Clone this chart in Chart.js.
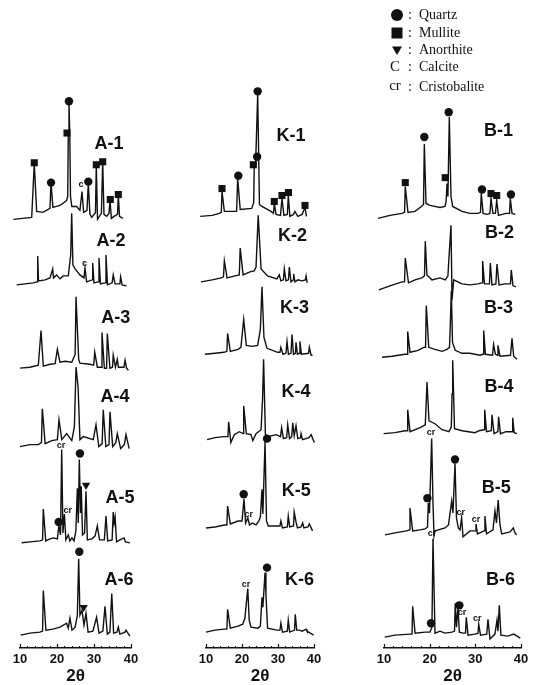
<!DOCTYPE html>
<html>
<head>
<meta charset="utf-8">
<script src="https://cdn.jsdelivr.net/npm/chart.js@4.4.0/dist/chart.umd.min.js"></script>
<style>
  html, body { margin: 0; background: #fff; }
  #wrap { position: relative; width: 543px; height: 685px; }
  canvas { position: absolute; left: 0; top: 0; }
</style>
</head>
<body>
<div id="wrap">
  <canvas id="colA" width="543" height="685"></canvas>
  <canvas id="colK" width="543" height="685"></canvas>
  <canvas id="colB" width="543" height="685"></canvas>
</div>
<script>
// 2θ tick labels
const twoThetaTicks = [10, 20, 30, 40];

// sample names per column
const samplesA = ["A-1", "A-2", "A-3", "A-4", "A-5", "A-6"];
const samplesK = ["K-1", "K-2", "K-3", "K-4", "K-5", "K-6"];
const samplesB = ["B-1", "B-2", "B-3", "B-4", "B-5", "B-6"];

// patterns: [2θ, intensity above the trace's own baseline]
const a1 = [[8.2,-3],[13.16,-1],[13.86,53],[14.5,5],[16.2,4],[18.1,8],[18.38,33],[18.9,9],[20.8,11],[22.6,16],[22.9,20],[23.05,84],[23.24,115],[23.45,84],[23.65,20],[24.0,10],[25.3,10],[26.2,6],[26.76,25],[27.2,4],[28.1,6],[28.46,33],[28.9,2],[29.4,-1],[30.4,4],[30.62,51],[30.95,-3],[32.0,3],[32.35,55],[32.7,2],[33.4,0],[34.05,3],[34.32,16],[34.7,-2],[35.4,0],[36.35,2],[36.57,21],[36.9,0],[37.8,-2]];
const a2 = [[9.1,0],[13.6,2],[14.6,3],[14.78,29],[15.0,4],[16.8,5],[18.1,7],[18.84,16],[19.05,7],[19.9,10],[20.8,6],[21.7,9],[23.05,9],[23.7,30],[23.97,72],[24.3,20],[24.9,16],[26.2,10],[27.3,7],[27.57,17],[28.0,3],[29.5,5],[29.65,22],[30.0,2],[31.1,3],[31.35,27],[31.75,1],[33.0,2],[33.24,30],[33.65,0],[34.9,2],[35.2,10],[35.7,1],[37.0,1],[37.2,8],[37.6,0],[38.8,-1]];
const a3 = [[10.0,1],[12.7,2],[14.95,4],[15.68,39],[16.3,3],[18.1,5],[19.5,5.5],[20.1,20],[20.8,7],[22.2,8],[24.0,7],[24.9,15],[25.14,73],[25.86,10],[26.2,6],[28.9,5],[29.9,4],[30.2,17],[30.9,2],[31.9,2],[32.16,37],[32.8,1],[33.4,1],[33.6,36],[34.3,1],[35.0,2],[35.2,14],[35.8,2],[36.3,10],[36.6,2],[38.1,2],[38.4,9],[38.8,1],[39.3,-1]];
const a4 = [[10.0,0],[12.7,2],[14.95,2],[15.8,4],[16.03,38],[16.8,3],[18.6,6],[20.1,7],[20.54,27],[21.3,7],[22.6,13],[24.0,6],[24.7,20],[25.14,80],[25.7,60],[26.2,7],[27.1,10],[29.8,7],[30.54,22],[31.3,0],[32.2,3],[32.5,37],[33.2,0],[34.05,2],[34.32,35],[35.05,0],[35.9,4],[36.3,13],[37.2,-2],[38.2,2],[38.65,12],[39.5,-2]];
const a5 = [[10.45,0],[12.7,1],[15.4,2],[16.1,3],[16.3,34],[16.95,2],[18.1,4],[19.0,5],[20.1,4],[20.5,17],[20.95,8],[21.27,94],[21.6,10],[22.0,29],[22.4,3],[23.05,8],[23.5,2],[24.05,5],[24.6,2],[25.1,12],[25.5,55],[25.75,20],[26.03,84],[26.35,30],[26.55,57],[26.9,8],[27.45,10],[27.84,52],[28.2,3],[29.45,4],[30.3,7],[30.9,17],[31.5,3],[32.8,3],[33.24,27],[33.7,2],[34.9,3],[35.2,31],[35.45,20],[35.7,26],[36.1,1],[37.0,3],[38.1,5],[38.5,1],[39.7,0]];
const a6 = [[10.2,0],[12.7,2],[15.4,3],[16.1,4],[16.3,45],[17.0,5],[18.9,6],[20.8,8],[22.6,12],[23.05,7],[23.5,17],[24.05,5],[24.9,8],[25.5,20],[25.86,77],[26.2,20],[26.75,25],[27.3,10],[27.84,22],[28.4,3],[29.7,4],[30.7,18],[31.35,2],[32.4,4],[32.97,29],[33.6,1],[34.3,3],[34.8,42],[35.3,2],[36.2,3],[36.57,8],[37.0,1],[38.4,3],[38.65,5],[39.7,-1]];

const k1 = [[8.4,0],[11.7,1],[13.7,3],[14.25,4],[14.45,25],[15.1,5],[17.9,5],[18.5,5],[18.8,38],[19.5,7],[22.7,8],[23.25,14],[23.4,50],[23.8,55],[24.36,123],[24.85,12],[25.55,10],[28.05,5],[28.75,3],[28.97,13],[29.45,2],[30.7,1],[31.1,18],[31.65,1],[32.6,2],[32.86,21],[33.3,0],[34.3,2],[34.7,5],[35.5,0],[36.7,2],[37.5,9],[37.9,0],[38.05,0]];
const k2 = [[8.6,-1],[11.7,1],[14.2,3],[14.85,4],[15.1,20],[15.85,3],[18.05,5],[19.25,6],[19.5,33],[20.3,6],[22.2,9],[23.4,10],[23.9,14],[24.5,66],[25.3,12],[27.1,5],[29.7,2],[30.35,6],[30.8,0],[31.5,1],[31.75,12],[32.2,0],[32.9,1],[33.15,14],[33.6,-1],[34.2,1],[34.35,7],[34.7,-1],[35.55,1],[36.7,0],[37.6,1],[37.8,5],[38.1,-2]];
const k3 = [[9.7,0],[12.5,1],[15.0,2],[15.8,3],[16.0,21],[16.75,3],[18.9,5],[19.7,7],[20.47,35],[21.2,9],[22.8,8],[24.35,9],[25.1,25],[25.55,68],[26.1,17],[26.95,6],[29.9,2],[30.55,2],[30.8,7],[31.4,0],[32.2,1],[32.5,13],[32.9,0],[33.6,1],[33.9,20],[34.3,0],[34.85,1],[35.0,12],[35.4,0],[35.95,1],[36.1,13],[36.5,0],[38.5,1],[38.7,7],[39.2,-1],[39.6,-1]];
const k4 = [[10.3,0],[12.5,2],[15.0,3],[16.1,3],[16.3,18],[16.9,-3],[17.85,5],[19.25,8],[20.3,6],[20.47,34],[21.2,6],[22.5,5],[23.0,-1],[23.9,6],[25.3,10],[25.7,40],[26.0,81],[26.5,5],[27.2,3],[29.45,5],[30.7,3],[31.0,12],[31.5,1],[32.4,2],[32.7,15],[33.2,1],[33.8,3],[34.1,17],[34.5,4],[35.0,14],[35.5,1],[36.25,2],[36.4,6],[36.8,0],[38.6,2],[39.2,5],[40.1,-3]];
const k5 = [[10.0,1],[12.5,2],[15.1,4],[15.8,4],[16.0,23],[16.75,5],[18.9,8],[20.0,8],[20.55,30],[21.0,6],[21.6,11],[22.1,4],[22.8,6],[23.9,4],[24.7,8],[25.1,12],[25.55,40],[25.8,15],[26.4,88],[26.8,8],[27.3,3],[29.7,3],[30.55,3],[30.8,8],[31.25,1],[32.6,2],[32.85,13],[33.25,2],[34.3,3],[34.5,17],[35.0,7],[35.4,1],[36.4,2],[36.85,6],[37.2,1],[38.3,2],[38.7,5],[39.6,-2]];
const k6 = [[10.0,0],[12.5,2],[15.1,3],[15.8,3],[16.0,23],[16.75,4],[18.9,6],[20.2,8],[20.8,14],[21.6,44],[22.0,12],[22.5,5],[24.45,4],[25.1,6],[25.55,35],[25.8,25],[26.4,60],[26.65,38],[27.1,4],[29.7,2],[30.55,2],[30.8,9],[31.25,0],[32.6,1],[32.85,12],[33.25,0],[34.6,2],[34.8,18],[35.2,2],[35.95,2],[36.7,1],[37.8,3],[38.05,1],[39.9,-3]];

const b1 = [[8.69,-2],[11.3,1],[13.94,3],[14.5,4],[14.66,30],[15.25,4],[16.8,5],[18.17,10],[18.65,12],[18.83,73],[19.2,13],[20.07,11],[22.26,9],[23.36,10],[23.6,15],[23.8,33],[24.0,20],[24.3,100],[24.67,20],[25.04,10],[27.08,5],[28.8,3],[30.6,3],[31.13,4],[31.3,23],[31.7,3],[32.55,2],[33.2,3],[33.43,18],[33.86,3],[34.4,3],[34.68,16],[35.07,1],[36.7,3],[37.48,3],[37.66,18],[38.03,3],[38.75,2]];
const b2 = [[8.84,-2],[11.3,2],[13.94,6],[14.5,6],[14.66,30],[15.36,5],[16.8,8],[18.3,10],[18.87,12],[19.04,47],[19.4,13],[20.5,8],[22.26,10],[23.42,8],[24.0,12],[24.17,26],[24.67,63],[24.9,-12],[25.26,8],[27.08,4],[28.8,3],[30.6,4],[31.46,5],[31.6,27],[32.0,4],[33.1,4],[33.28,25],[33.65,3],[34.5,4],[34.74,24],[35.2,3],[36.5,4],[37.7,4],[37.87,18],[38.25,2],[38.9,1]];
const b3 = [[9.56,0],[11.75,1],[14.6,3],[15.04,3],[15.19,26],[15.7,5],[17.45,7],[18.7,10],[19.1,10],[19.26,52],[19.8,10],[21.17,8],[22.7,6],[23.8,8],[24.34,10],[24.5,30],[24.74,67],[25.0,15],[25.6,7],[27.08,4],[28.8,4],[31.0,2],[31.68,3],[31.83,27],[32.2,3],[33.76,2],[34.0,13],[34.4,3],[34.85,2],[34.96,12],[35.4,1],[37.7,2],[38.03,19],[38.4,1],[39.12,-2]];
const b4 = [[9.93,0],[12.4,1],[14.6,3],[15.04,3],[15.19,24],[15.7,2],[17.9,6],[19.04,9],[19.42,52],[19.85,13],[21.17,10],[22.7,4],[24.23,2],[24.74,7],[24.9,40],[25.04,74],[25.44,5],[27.08,3],[29.93,1],[30.8,3],[31.9,4],[32.05,24],[32.45,2],[33.5,3],[33.65,19],[34.1,0],[34.95,2],[35.1,17],[35.5,0],[36.7,2],[38.03,2],[38.18,16],[38.5,1],[39.12,0]];
const b5 = [[10.22,-2],[12.4,0],[14.97,2],[15.5,3],[15.69,25],[16.28,2],[17.9,3],[19.0,4],[19.53,6],[19.7,30],[19.96,20],[20.44,95],[20.73,30],[20.95,-3],[21.17,2],[23.36,5],[24.12,8],[24.82,32],[25.1,20],[25.55,70],[25.87,15],[26.27,5],[26.64,3],[27.0,15],[27.3,-4],[28.83,2],[29.93,2],[30.14,9],[30.47,-1],[31.9,2],[32.1,17],[32.45,-1],[33.86,3],[34.3,22],[34.63,10],[35.0,33],[35.4,8],[35.77,-1],[37.6,1],[38.3,5],[38.7,0],[39.06,-2]];
const b6 = [[10.15,0],[12.4,2],[15.76,3],[16.13,3],[16.28,31],[16.8,4],[18.98,5],[20.07,5],[20.5,10],[20.73,99],[21.0,40],[21.17,4],[22.26,6],[23.36,4],[24.9,5],[25.44,6],[25.6,34],[25.87,10],[26.2,30],[26.5,5],[27.3,4],[27.85,4],[28.02,20],[28.4,2],[29.93,3],[30.58,4],[30.74,13],[31.13,2],[32.5,3],[32.77,18],[33.2,-2],[34.3,3],[34.74,17],[34.96,6],[35.25,32],[35.6,2],[37.15,1],[38.4,3],[39.84,-1]];

// phase marks: [sample, 2θ, intensity]
const quartzA = [["A-1",18.38,34],["A-1",23.24,116],["A-1",28.46,35],["A-5",20.45,21],["A-5",26.2,90],["A-6",26.03,84]];
const mulliteA = [["A-1",13.86,54],["A-1",22.7,84],["A-1",30.62,52],["A-1",32.35,55],["A-1",34.4,17],["A-1",36.57,22]];
const anorthiteA = [["A-5",27.84,58],["A-6",27.2,28]];
const calciteA = [["A-1",26.5,32],["A-2",27.4,21]];
const cristobaliteA = [["A-5",21.1,98],["A-5",22.9,33]];

const quartzK = [["K-1",18.97,41],["K-1",24.2,60],["K-1",24.36,126],["K-5",20.47,35],["K-5",26.95,91],["K-6",26.95,65]];
const mulliteK = [["K-1",14.45,28],["K-1",23.15,52],["K-1",28.97,15],["K-1",31.1,21],["K-1",32.9,24],["K-1",37.5,11]];
const anorthiteK = [];
const calciteK = [];
const cristobaliteK = [["K-5",21.9,15],["K-6",21.1,48]];

const quartzB = [["B-1",18.83,80],["B-1",24.17,105],["B-1",31.46,27],["B-1",37.8,22],["B-5",19.5,35],["B-5",25.55,74],["B-6",20.3,14],["B-6",26.5,32]];
const mulliteB = [["B-1",14.66,34],["B-1",23.4,39],["B-1",33.43,23],["B-1",34.68,21]];
const anorthiteB = [];
const calciteB = [];
const cristobaliteB = [["B-5",20.3,101],["B-5",26.8,21],["B-5",30.14,13],["B-6",20.5,104],["B-6",27.1,25],["B-6",30.4,19]];

// legend rows
const legendNames = ["Quartz", "Mullite", "Anorthite", "Calcite", "Cristobalite"];

// layout: vertical offset of each trace (px above the axis), label spots [2θ, height]
const offsetA = [435, 366, 281, 203, 106, 13];
const offsetK = [435, 370, 296, 210, 120, 16];
const offsetB = [435, 363, 293, 216, 116, 11];
const nameSpotA = [[34.05,73],[34.6,44],[35.9,52],[35.7,50],[37.0,45],[36.75,55]];
const nameSpotK = [[33.6,81],[34.0,45],[34.6,47],[35.0,48],[35.1,38],[36.0,52]];
const nameSpotB = [[35.07,86],[35.3,55],[35.07,50],[35.2,47],[34.6,45],[35.5,57]];

const INK = "#111111";

const xrdText = {
    id: "xrdText",
    afterDatasetsDraw(chart, args, opts) {
        const ctx = chart.ctx;
        const x = chart.scales.x;
        const y = chart.scales.y;
        const yOf = (name, h) => y.getPixelForValue(opts.offsets[opts.names.indexOf(name)] + h);
        ctx.save();
        ctx.fillStyle = INK;
        ctx.strokeStyle = INK;
        ctx.textAlign = "center";
        ctx.textBaseline = "middle";

        // sample names
        ctx.font = 'bold 18px "Liberation Sans"';
        opts.names.forEach((n, i) => {
            const s = opts.spots[i];
            ctx.fillText(n, x.getPixelForValue(s[0]), y.getPixelForValue(opts.offsets[i] + s[1]));
        });

        // phase letters
        ctx.font = 'bold 9px "Liberation Sans"';
        opts.calcite.forEach((m) => ctx.fillText("c", x.getPixelForValue(m[1]), yOf(m[0], m[2])));
        opts.cristobalite.forEach((m) => ctx.fillText("cr", x.getPixelForValue(m[1]), yOf(m[0], m[2])));

        // small ticks pointing up from the axis
        const y0 = y.getPixelForValue(0);
        ctx.lineWidth = 1.2;
        ctx.beginPath();
        for (let v = x.min; v <= x.max; v += 2) {
            const px = Math.round(x.getPixelForValue(v)) + 0.5;
            const len = v % 10 === 0 ? 4 : 2;
            ctx.moveTo(px, y0);
            ctx.lineTo(px, y0 - len);
        }
        ctx.stroke();

        // legend (only on the right column)
        if (opts.legend) {
            const rows = [15, 33, 50, 67, 87];
            const sx = 397;
            legendNames.forEach((name, i) => {
                const ry = rows[i];
                ctx.beginPath();
                if (i === 0) {
                    ctx.arc(sx, ry, 6, 0, Math.PI * 2);
                    ctx.fill();
                } else if (i === 1) {
                    ctx.fillRect(sx - 5.5, ry - 5.5, 11, 11);
                } else if (i === 2) {
                    ctx.moveTo(sx - 5, ry - 3.5);
                    ctx.lineTo(sx + 5, ry - 3.5);
                    ctx.lineTo(sx, ry + 5);
                    ctx.closePath();
                    ctx.fill();
                }
                ctx.font = '15px "Liberation Serif"';
                ctx.textAlign = "center";
                if (i === 3) ctx.fillText("C", sx - 2, ry);
                if (i === 4) ctx.fillText("cr", sx - 2, ry - 1);
                ctx.font = '14px "Liberation Serif"';
                ctx.fillText(":", 410, ry);
                ctx.textAlign = "left";
                ctx.fillText(name, 419, ry);
            });
        }
        ctx.restore();
    },
};

function markSet(marks, names, offsets, style, radius, rotation) {
    return {
        data: marks.map((m) => ({ x: m[1], y: offsets[names.indexOf(m[0])] + m[2] })),
        showLine: false,
        pointStyle: style,
        pointRadius: radius,
        pointRotation: rotation,
        pointBackgroundColor: INK,
        pointBorderColor: INK,
        pointBorderWidth: 0,
        clip: false,
    };
}

function makeColumn(id, names, offsets, traces, quartz, mullite, anorthite, calcite, cristobalite, spots, padLeft, padRight, legend) {
    const datasets = traces.map((t, i) => ({
        label: names[i],
        data: t.map((p) => ({ x: p[0], y: offsets[i] + p[1] })),
        showLine: true,
        borderColor: INK,
        borderWidth: 1.4,
        pointRadius: 0,
        tension: 0,
        clip: false,
    }));
    datasets.push(markSet(quartz, names, offsets, "circle", 4.2, 0));
    datasets.push(markSet(mullite, names, offsets, "rect", 5, 0));
    datasets.push(markSet(anorthite, names, offsets, "triangle", 4.8, 180));

    new Chart(document.getElementById(id), {
        type: "scatter",
        data: { datasets: datasets },
        options: {
            responsive: false,
            animation: false,
            devicePixelRatio: 1,
            events: [],
            layout: { padding: { left: padLeft, right: padRight, top: 0, bottom: 0 } },
            plugins: {
                legend: { display: false },
                tooltip: { enabled: false },
                xrdText: {
                    names: names,
                    offsets: offsets,
                    spots: spots,
                    calcite: calcite,
                    cristobalite: cristobalite,
                    legend: legend,
                },
            },
            scales: {
                x: {
                    type: "linear",
                    min: twoThetaTicks[0],
                    max: twoThetaTicks[twoThetaTicks.length - 1],
                    afterBuildTicks: (axis) => {
                        axis.ticks = twoThetaTicks.map((v) => ({ value: v }));
                    },
                    ticks: {
                        color: INK,
                        padding: 4,
                        maxRotation: 0,
                        autoSkip: false,
                        font: { family: "Liberation Sans", size: 13, weight: "bold" },
                    },
                    grid: { display: false, drawTicks: false },
                    border: { display: true, color: INK, width: 1.4 },
                    title: {
                        display: true,
                        text: "2θ",
                        color: INK,
                        padding: 0,
                        font: { family: "Liberation Sans", size: 17, weight: "bold", lineHeight: 1 },
                    },
                    afterFit: (axis) => {
                        axis.height = 37;
                    },
                },
                y: { display: false, min: 0, max: 648 },
            },
        },
        plugins: [xrdText],
    });
}

makeColumn("colA", samplesA, offsetA, [a1, a2, a3, a4, a5, a6], quartzA, mulliteA, anorthiteA, calciteA, cristobaliteA, nameSpotA, 20, 412, false);
makeColumn("colK", samplesK, offsetK, [k1, k2, k3, k4, k5, k6], quartzK, mulliteK, anorthiteK, calciteK, cristobaliteK, nameSpotK, 206, 229, false);
makeColumn("colB", samplesB, offsetB, [b1, b2, b3, b4, b5, b6], quartzB, mulliteB, anorthiteB, calciteB, cristobaliteB, nameSpotB, 384, 22, true);
</script>
</body>
</html>
